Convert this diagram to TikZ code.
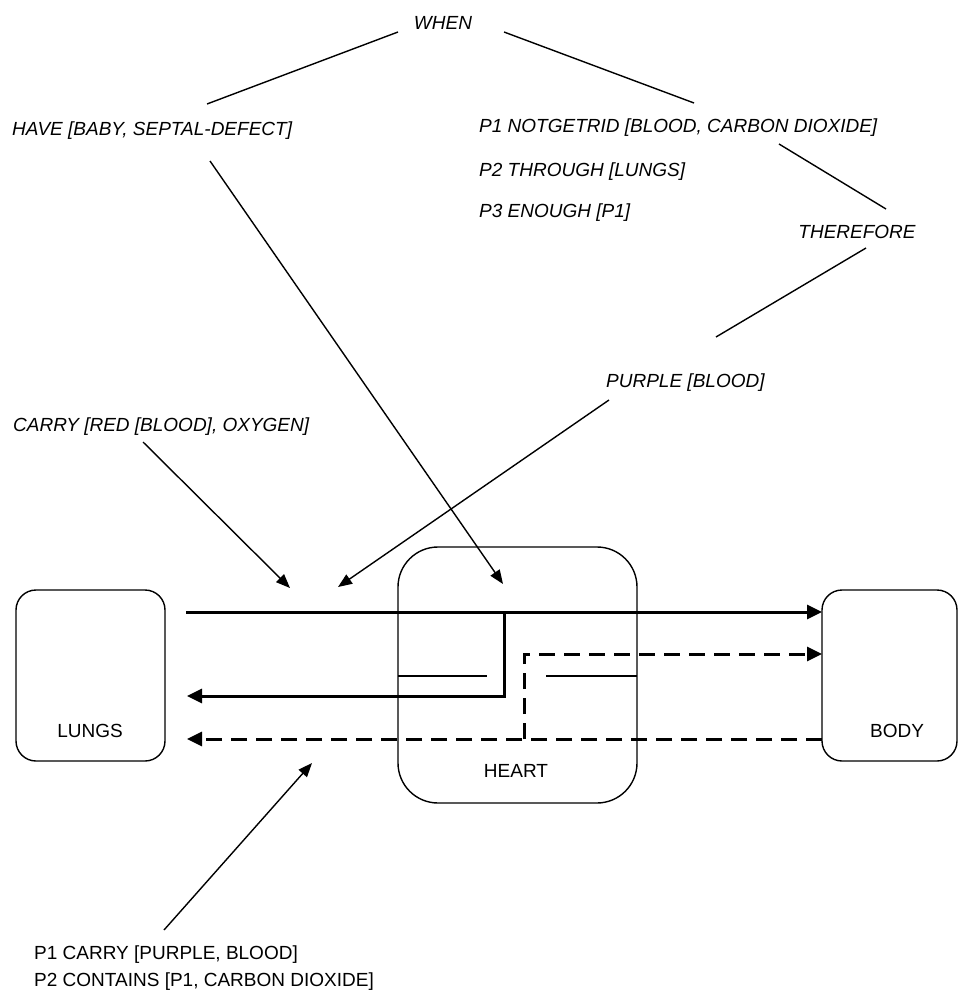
\documentclass[tikz,border=0pt]{standalone}
\usepackage{fontspec}
\setmainfont{Liberation Sans}
\usetikzlibrary{arrows.meta}
\begin{document}
\begin{tikzpicture}[x=1pt,y=-1pt,
  lbl/.style={inner sep=0pt, font=\fontsize{19}{23}\selectfont\itshape, anchor=base west},
  plainlbl/.style={inner sep=0pt, font=\fontsize{19}{23}\selectfont, anchor=base},
  organ/.style={draw, line width=1.4pt, inner sep=0pt, outer sep=0pt},
  link/.style={line width=1.4pt},
  note/.style={line width=1.4pt, -{Triangle[length=14pt,width=11pt]}},
  flow/.style={line width=3pt, line join=miter, -{Triangle[length=15pt,width=14pt]}},
  back/.style={line width=3pt, line join=miter, dash pattern=on 16pt off 9pt, -{Triangle[length=15pt,width=14pt]}},
  septum/.style={line width=1.3pt}]
\useasboundingbox (0,0) rectangle (959,992);

% organ boxes
\node[organ, rounded corners=20pt, minimum width=149pt, minimum height=171pt] (lungs) at (90.5,675.5) {};
\node[organ, rounded corners=40pt, minimum width=239pt, minimum height=256pt] (heart) at (517.5,675) {};
\node[organ, rounded corners=20pt, minimum width=135pt, minimum height=171pt] (body) at (889.5,675.5) {};
\node[plainlbl] (lungslbl) at (90,737) {LUNGS};
\node[plainlbl] (heartlbl) at (516,777) {HEART};
\node[plainlbl] (bodylbl) at (897,737) {BODY};

% annotation texts
\node[inner sep=0pt, font=\fontsize{19}{23}\selectfont\itshape, anchor=base] (when) at (443,30) {WHEN};
\node[lbl] (have) at (12,136) {HAVE [BABY, SEPTAL-DEFECT]};
\node[lbl] (p1) at (479,133) {P1 NOTGETRID [BLOOD, CARBON DIOXIDE]};
\node[lbl] (p2) at (479,177) {P2 THROUGH [LUNGS]};
\node[lbl] (p3) at (479,218) {P3 ENOUGH [P1]};
\node[inner sep=0pt, font=\fontsize{19}{23}\selectfont\itshape, anchor=base] (therefore) at (857,239) {THEREFORE};
\node[lbl] (purple) at (606,387) {PURPLE [BLOOD]};
\node[lbl] (carry) at (13,431) {CARRY [RED [BLOOD], OXYGEN]};
\node[inner sep=0pt, font=\fontsize{19}{23}\selectfont, anchor=base west] (pcarry) at (34,959) {P1 CARRY [PURPLE, BLOOD]};
\node[inner sep=0pt, font=\fontsize{19}{23}\selectfont, anchor=base west] (pcontains) at (34,986) {P2 CONTAINS [P1, CARBON DIOXIDE]};

% connector end points
\coordinate (whenL) at (398,32);
\coordinate (haveT) at (207,104);
\coordinate (whenR) at (504,32);
\coordinate (p1T) at (694,103);
\coordinate (p1B) at (779,144);
\coordinate (thereT) at (886,209);
\coordinate (thereB) at (866,248);
\coordinate (purpleT) at (716,337);
\coordinate (haveB) at (210,161);
\coordinate (haveTip) at (503,584);
\coordinate (carryB) at (143,442);
\coordinate (carryTip) at (290,588);
\coordinate (purpleB) at (609,400);
\coordinate (purpleTip) at (338,587);
\coordinate (pB) at (164,930);
\coordinate (pTip) at (312,763);

% tree lines
\draw[link] (whenL) -- (haveT);
\draw[link] (whenR) -- (p1T);
\draw[link] (p1B) -- (thereT);
\draw[link] (thereB) -- (purpleT);

% annotation arrows
\draw[note] (haveB) -- (haveTip);
\draw[note] (carryB) -- (carryTip);
\draw[note] (purpleB) -- (purpleTip);
\draw[note] (pB) -- (pTip);

% flow coordinates
\coordinate (f1s) at (186,612);
\coordinate (f1e) at (822,612);
\coordinate (f2s) at (504,612);
\coordinate (f2m) at (504,696);
\coordinate (f2e) at (187,696);
\coordinate (d1s) at (822,739);
\coordinate (d1e) at (187,739);
\coordinate (d2s) at (524,739);
\coordinate (d2m) at (524,654);
\coordinate (d2e) at (822,654);
\coordinate (s1a) at (398,676);
\coordinate (s1b) at (487,676);
\coordinate (s2a) at (546,676);
\coordinate (s2b) at (637,676);

\draw[flow] (f1s) -- (f1e);
\draw[flow] (f2s) -- (f2m) -- (f2e);
\draw[back] (d1s) -- (d1e);
\draw[back] (d2s) -- (d2m) -- (d2e);
\draw[septum] (s1a) -- (s1b);
\draw[septum] (s2a) -- (s2b);
\end{tikzpicture}
\end{document}
